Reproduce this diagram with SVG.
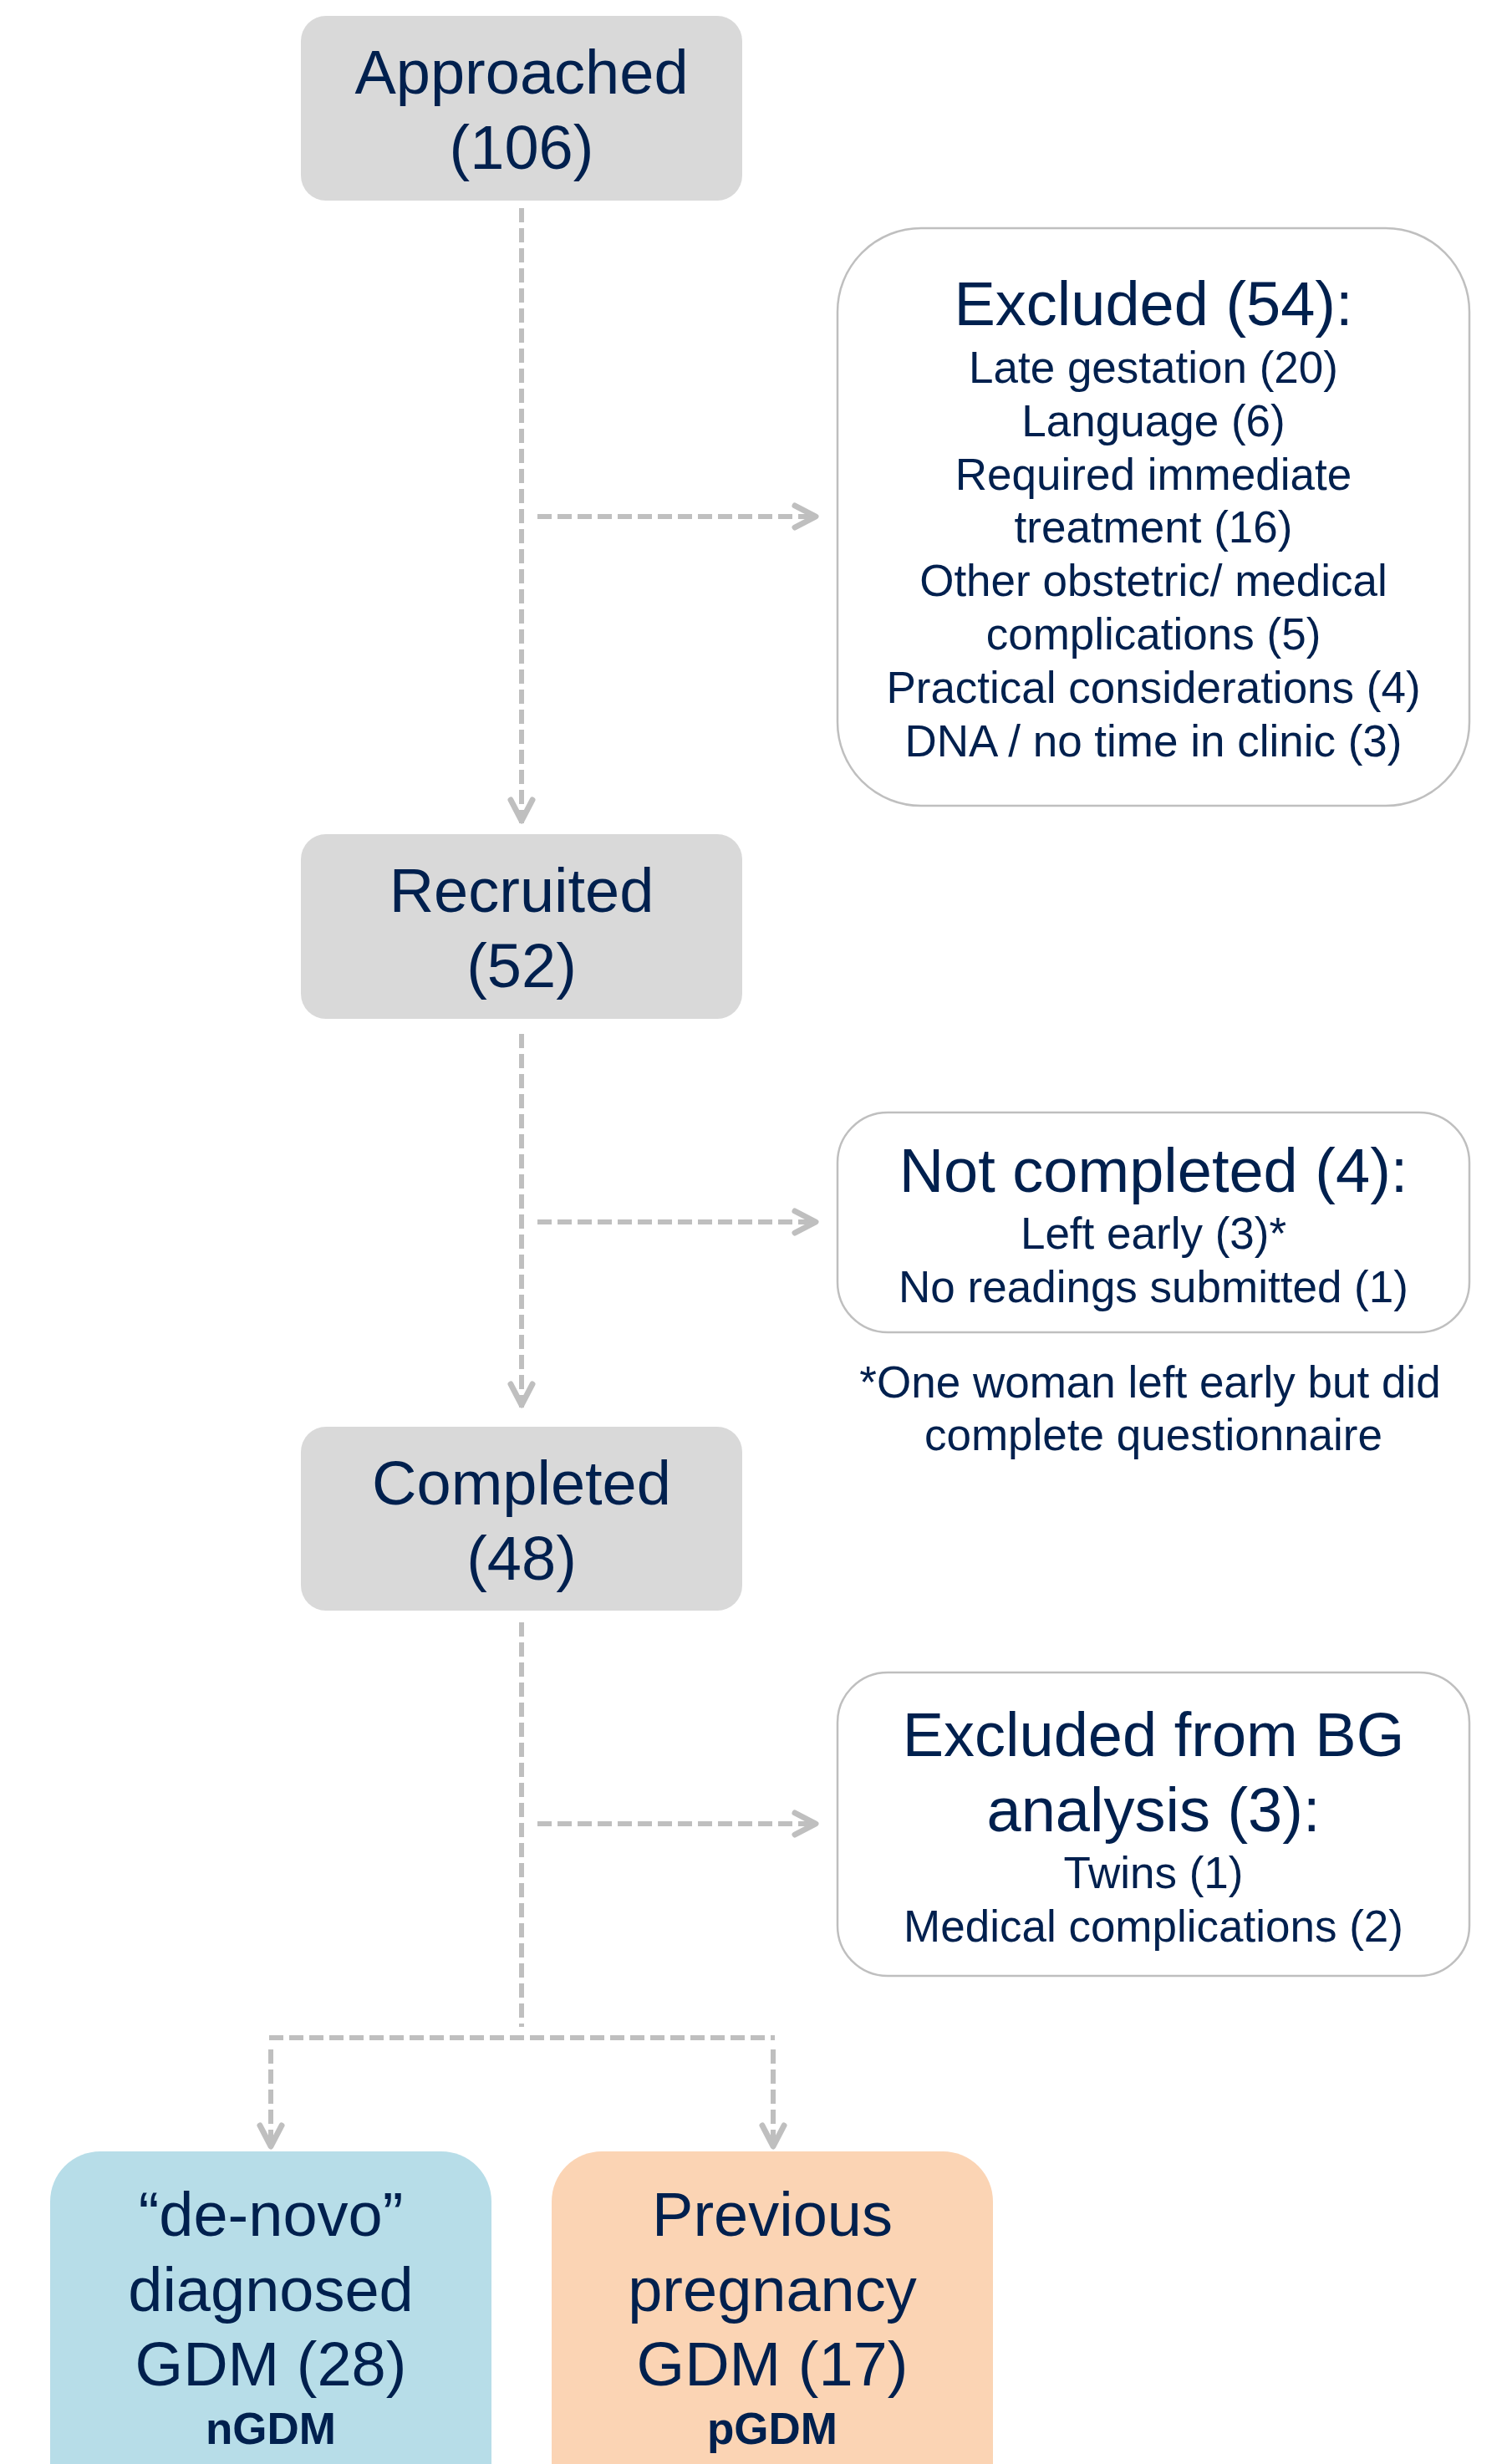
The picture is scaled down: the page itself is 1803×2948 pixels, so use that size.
<svg xmlns="http://www.w3.org/2000/svg" width="1803" height="2948" viewBox="0 0 1803 2948">
<style>
text{font-family:"Liberation Sans",Arial,sans-serif;fill:#00204E;text-anchor:middle}
.h{font-size:74px}
.s{font-size:53px}
.b{font-size:53px;font-weight:bold}
.grey{fill:#D9D9D9}
.out{fill:#FFFFFF;stroke:#BFBFBF;stroke-width:2.5}
.con{fill:none;stroke:#BFBFBF;stroke-width:6;stroke-dasharray:17 7}
</style>
<defs>
<marker id="arr" markerUnits="userSpaceOnUse" markerWidth="40" markerHeight="40" viewBox="-30 -20 40 40" refX="3" refY="0" orient="auto" overflow="visible">
<path d="M-25,-13 L0,0 L-25,13" fill="none" stroke="#BFBFBF" stroke-width="7" stroke-linecap="round" stroke-linejoin="round"/>
</marker>
</defs>
<rect width="1803" height="2948" fill="#FFFFFF"/>
<g id="connectors">
<path class="con" d="M624,249 V985" marker-end="url(#arr)"/>
<path class="con" d="M643,618 H979" marker-end="url(#arr)"/>
<path class="con" d="M624,1237 V1684" marker-end="url(#arr)"/>
<path class="con" d="M643,1462 H979" marker-end="url(#arr)"/>
<path class="con" d="M624,1941 V2425"/>
<path class="con" d="M643,2182 H979" marker-end="url(#arr)"/>
<path class="con" d="M322,2438 H927"/>
<path class="con" d="M324,2452 V2571" marker-end="url(#arr)"/>
<path class="con" d="M925,2452 V2571" marker-end="url(#arr)"/>
</g>
<g id="approached">
<rect class="grey" x="360" y="19" width="528" height="221" rx="30"/>
<text class="h" x="624" y="112">Approached</text>
<text class="h" x="624" y="202">(106)</text>
</g>
<g id="excluded">
<rect class="out" x="1002" y="273" width="756" height="691" rx="100"/>
<text class="h" x="1380" y="389">Excluded (54):</text>
<text class="s" x="1380" y="458">Late gestation (20)</text>
<text class="s" x="1380" y="522">Language (6)</text>
<text class="s" x="1380" y="586">Required immediate</text>
<text class="s" x="1380" y="649">treatment (16)</text>
<text class="s" x="1380" y="713">Other obstetric/ medical</text>
<text class="s" x="1380" y="777">complications (5)</text>
<text class="s" x="1380" y="841">Practical considerations (4)</text>
<text class="s" x="1380" y="905">DNA / no time in clinic (3)</text>
</g>
<g id="recruited">
<rect class="grey" x="360" y="998" width="528" height="221" rx="30"/>
<text class="h" x="624" y="1091">Recruited</text>
<text class="h" x="624" y="1181">(52)</text>
</g>
<g id="not-completed">
<rect class="out" x="1002" y="1331" width="756" height="263" rx="60"/>
<text class="h" x="1380" y="1426">Not completed (4):</text>
<text class="s" x="1380" y="1494">Left early (3)*</text>
<text class="s" x="1380" y="1558">No readings submitted (1)</text>
</g>
<g id="footnote">
<text class="s" x="1376" y="1672">*One woman left early but did</text>
<text class="s" x="1380" y="1735">complete questionnaire</text>
</g>
<g id="completed">
<rect class="grey" x="360" y="1707" width="528" height="220" rx="30"/>
<text class="h" x="624" y="1800">Completed</text>
<text class="h" x="624" y="1890">(48)</text>
</g>
<g id="excluded-bg">
<rect class="out" x="1002" y="2001" width="756" height="363" rx="60"/>
<text class="h" x="1380" y="2101">Excluded from BG</text>
<text class="h" x="1380" y="2191">analysis (3):</text>
<text class="s" x="1380" y="2259">Twins (1)</text>
<text class="s" x="1380" y="2323">Medical complications (2)</text>
</g>
<g id="ngdm">
<rect x="60" y="2574" width="528" height="460" rx="60" fill="#B7DDE8"/>
<text class="h" x="324" y="2675">“de-novo”</text>
<text class="h" x="324" y="2765">diagnosed</text>
<text class="h" x="324" y="2854">GDM (28)</text>
<text class="b" x="324" y="2924">nGDM</text>
</g>
<g id="pgdm">
<rect x="660" y="2574" width="528" height="460" rx="60" fill="#FBD4B4"/>
<text class="h" x="924" y="2675">Previous</text>
<text class="h" x="924" y="2765">pregnancy</text>
<text class="h" x="924" y="2854">GDM (17)</text>
<text class="b" x="924" y="2924">pGDM</text>
</g>
</svg>
